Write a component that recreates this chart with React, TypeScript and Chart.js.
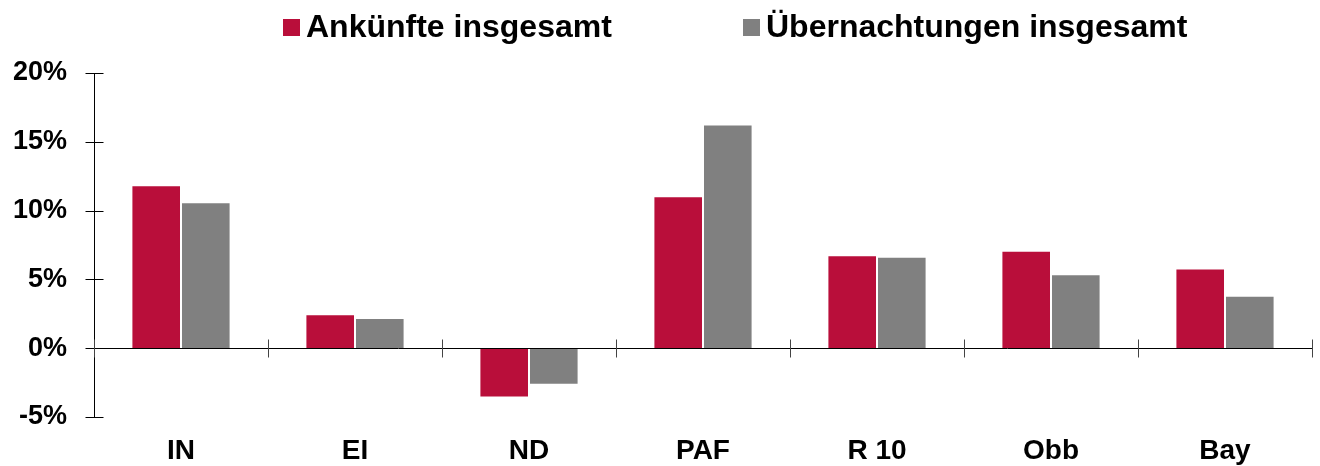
import React, { useEffect, useRef } from "react";
import { Chart, registerables } from "chart.js";

Chart.register(...registerables);

const categories = ["IN", "EI", "ND", "PAF", "R 10", "Obb", "Bay"];
const ankuenfte = [11.85, 2.47, -3.58, 11.05, 6.75, 7.08, 5.8];
const uebernachtungen = [10.6, 2.2, -2.66, 16.25, 6.65, 5.37, 3.82];
const seriesLabels = ["Ankünfte insgesamt", "Übernachtungen insgesamt"];
const yTicks = [-5, 0, 5, 10, 15, 20];

const RED = "#B90E3A";
const GREY = "#808080";
const FONT = '"Liberation Sans", Arial, Helvetica, sans-serif';

const legendX = [283, 743];

const customPlugin = {
  id: "axesAndLegend",
  afterDatasetsDraw(chart: any) {
    const { ctx, chartArea, scales } = chart;
    const xs = scales.x;
    const ys = scales.y;
    ctx.save();
    ctx.lineWidth = 1;
    const ax = Math.round(chartArea.left) + 0.5;
    ctx.strokeStyle = "#000";
    ctx.beginPath();
    ctx.moveTo(ax, Math.round(ys.getPixelForValue(yTicks[yTicks.length - 1])));
    ctx.lineTo(ax, Math.round(ys.getPixelForValue(yTicks[0])) + 1);
    ctx.stroke();
    yTicks.forEach((v) => {
      const y = Math.round(ys.getPixelForValue(v)) + 0.5;
      ctx.beginPath();
      ctx.moveTo(ax - 9, y);
      ctx.lineTo(ax + 9, y);
      ctx.stroke();
    });
    const zy = Math.round(ys.getPixelForValue(0)) + 0.5;
    ctx.beginPath();
    ctx.moveTo(chartArea.left, zy);
    ctx.lineTo(chartArea.right, zy);
    ctx.stroke();
    ctx.strokeStyle = "#444";
    for (let i = 0; i <= categories.length; i++) {
      const x = Math.round(xs.getPixelForValue(i - 0.5)) + 0.5;
      ctx.beginPath();
      ctx.moveTo(x, zy - 9);
      ctx.lineTo(x, zy + 9);
      ctx.stroke();
    }
    ctx.restore();
  },
  afterDraw(chart: any) {
    const { ctx } = chart;
    ctx.save();
    ctx.font = `bold 32px ${FONT}`;
    ctx.textBaseline = "middle";
    ctx.textAlign = "left";
    chart.data.datasets.forEach((ds: any, i: number) => {
      const x = legendX[i];
      ctx.fillStyle = ds.backgroundColor;
      ctx.fillRect(x, 19, 17, 17);
      ctx.fillStyle = "#000";
      ctx.fillText(ds.label, x + 23, 28);
    });
    ctx.restore();
  },
};

export default function App() {
  const ref = useRef<HTMLCanvasElement | null>(null);
  useEffect(() => {
    document.body.style.margin = "0";
    if (!ref.current) return;
    const chart = new Chart(ref.current, {
      type: "bar",
      data: {
        labels: categories,
        datasets: [
          {
            label: seriesLabels[0],
            data: ankuenfte,
            backgroundColor: RED,
            borderColor: "rgba(255,255,255,0.15)",
            borderWidth: 1,
          },
          {
            label: seriesLabels[1],
            data: uebernachtungen,
            backgroundColor: GREY,
            borderColor: "rgba(255,255,255,0.15)",
            borderWidth: 1,
          },
        ],
      },
      options: {
        animation: false,
        responsive: true,
        maintainAspectRatio: false,
        layout: { padding: { top: 73, right: 8, left: 0, bottom: 0 } },
        datasets: {
          bar: { categoryPercentage: 0.57, barPercentage: 1 },
        },
        plugins: {
          legend: { display: false },
          tooltip: { enabled: false },
        },
        scales: {
          x: {
            grid: { display: false },
            border: { display: false },
            ticks: {
              color: "#000",
              font: { family: FONT, size: 28, weight: "bold" },
              padding: 9,
              maxRotation: 0,
            },
            afterFit: (s: any) => {
              s.height = 49;
            },
          },
          y: {
            min: -5,
            max: 20,
            grid: { display: false, drawTicks: false },
            border: { display: false },
            ticks: {
              stepSize: 5,
              color: "#000",
              font: { family: FONT, size: 27, weight: "bold" },
              padding: 27,
              callback: (v: any) => `${v}%`,
            },
            afterFit: (s: any) => {
              s.width = 94;
            },
          },
        },
      },
      plugins: [customPlugin],
    });
    return () => chart.destroy();
  }, []);
  return (
    <div style={{ position: "fixed", left: 0, top: 0, width: 1320, height: 466 }}>
      <canvas ref={ref} />
    </div>
  );
}
